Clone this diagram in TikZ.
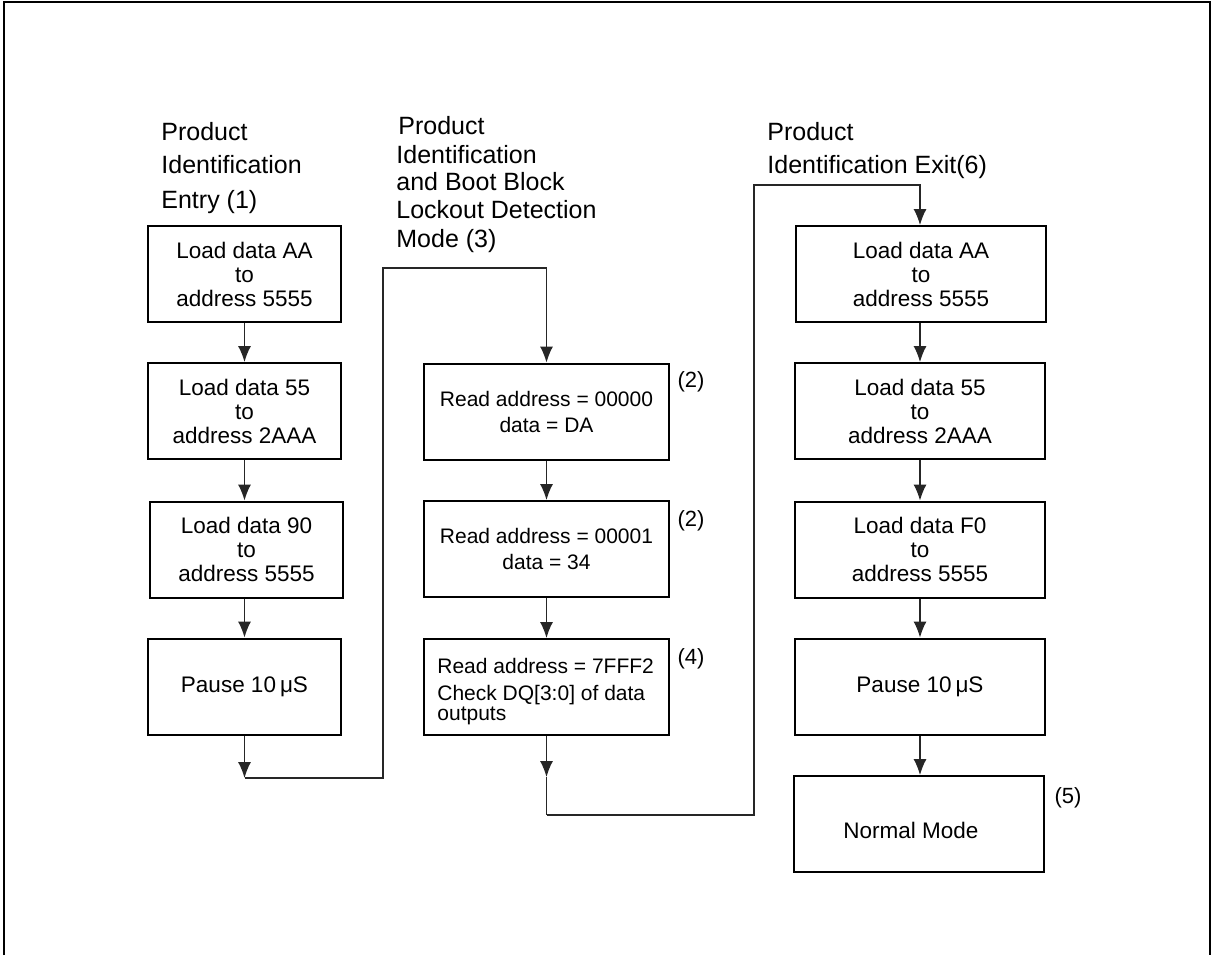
\documentclass[tikz,border=0pt]{standalone}
\usepackage{fontspec}
\setmainfont{Liberation Sans}
\usetikzlibrary{arrows.meta}
\begin{document}
\begin{tikzpicture}[x=0.5pt,y=-0.5pt,
  box/.style={draw, line width=1pt, inner sep=0pt, align=center, font=\fontsize{11.25}{12}\selectfont},
  bxa/.style={box, minimum width=96.5pt, minimum height=48pt},
  bxb/.style={box, minimum width=122.5pt, minimum height=48pt, font=\fontsize{10.5}{13}\selectfont},
  bxc/.style={box, minimum width=125pt, minimum height=48pt},
  conn/.style={draw=black!85, line width=0.6pt},
  arr/.style={conn, -{Latex[length=8pt,width=6.5pt]}},
  head/.style={anchor=base west, inner sep=0pt, font=\fontsize{12.5}{15}\selectfont},
  txt/.style={anchor=base west, inner sep=0pt, font=\fontsize{10.5}{12}\selectfont},
  note/.style={inner sep=0pt, font=\fontsize{11}{12}\selectfont}]
\useasboundingbox (0,0) rectangle (1211,955);
% frame
\draw[line width=1pt] (3.5,955) -- (3.5,1.5) -- (1209.5,1.5) -- (1209.5,955);

% headings
\node[head] (h1a) at (161,140) {Product};
\node[head] (h1b) at (161,173) {Identification};
\node[head] (h1c) at (161,208) {Entry (1)};
\node[head] (h2a) at (398,134) {Product};
\node[head] (h2b) at (396,163) {Identification};
\node[head] (h2c) at (396,190) {and Boot Block};
\node[head] (h2d) at (396,218) {Lockout Detection};
\node[head] (h2e) at (396,247) {Mode (3)};
\node[head] (h3a) at (767,140) {Product};
\node[head] (h3b) at (767,173) {Identification Exit(6)};

% column 1
\node[bxa] (b1) at (244.5,274) {Load data AA\\to\\address 5555};
\node[bxa] (b2) at (244.5,411) {Load data 55\\to\\address 2AAA};
\node[bxa] (b3) at (246.5,549.5) {Load data 90\\to\\address 5555};
\node[bxa] (b4) at (244.5,686.5) {Pause 10\kern2pt μS};

% column 2
\node[bxb] (b5) at (546.5,411.5) {Read address = 00000\\data = DA};
\node[bxb] (b6) at (546.5,549) {Read address = 00001\\data = 34};
\node[bxb] (b7) at (546.5,687) {};
\node[txt] (t7a) at (437,673) {Read address = 7FFF2};
\node[txt] (t7b) at (437,700) {Check DQ[3:0] of data};
\node[txt] (t7c) at (437,720) {outputs};

% column 3
\node[bxc] (b8) at (921,274) {Load data AA\\to\\address 5555};
\node[bxc] (b9) at (920,411) {Load data 55\\to\\address 2AAA};
\node[bxc] (b10) at (920,549.5) {Load data F0\\to\\address 5555};
\node[bxc] (b11) at (920,686.5) {Pause 10\kern2pt μS};
\node[bxc] (b12) at (919,824) {};
\node[inner sep=0pt, font=\fontsize{11.25}{12}\selectfont] (t12) at (911,830) {Normal Mode};

% notes
\node[note] (n1) at (691,382) {(2)};
\node[note] (n2) at (691,521) {(2)};
\node[note] (n3) at (691,659) {(4)};
\node[note] (n4) at (1068,798) {(5)};

% connectors
\draw[arr] (b1) -- (b2);
\draw[arr] (b2.south -| b1.south) -- (b3.north -| b1.south);
\draw[arr] (b3.south -| b1.south) -- (b4.north -| b1.south);
\coordinate (c1) at (244.5,778);
\coordinate (c2) at (383,268);
\draw[arr] (b4.south) -- (c1);
\draw[arr] (c1) -| (c2) -| (b5.north);

\draw[arr] (b5) -- (b6);
\draw[arr] (b6) -- (b7);
\coordinate (c3) at (546.5,777);
\coordinate (c4) at (546.5,815);
\coordinate (c5) at (754,185);
\draw[arr] (b7.south) -- (c3);
\draw[conn] (c3) -- (c4);
\draw[arr] (c4) -| (c5) -| (b8.north -| b9.north);

\draw[arr] (b8.south -| b9.south) -- (b9.north);
\draw[arr] (b9) -- (b10);
\draw[arr] (b10) -- (b11);
\draw[arr] (b11.south) -- (b12.north -| b11.south);
\end{tikzpicture}
\end{document}
